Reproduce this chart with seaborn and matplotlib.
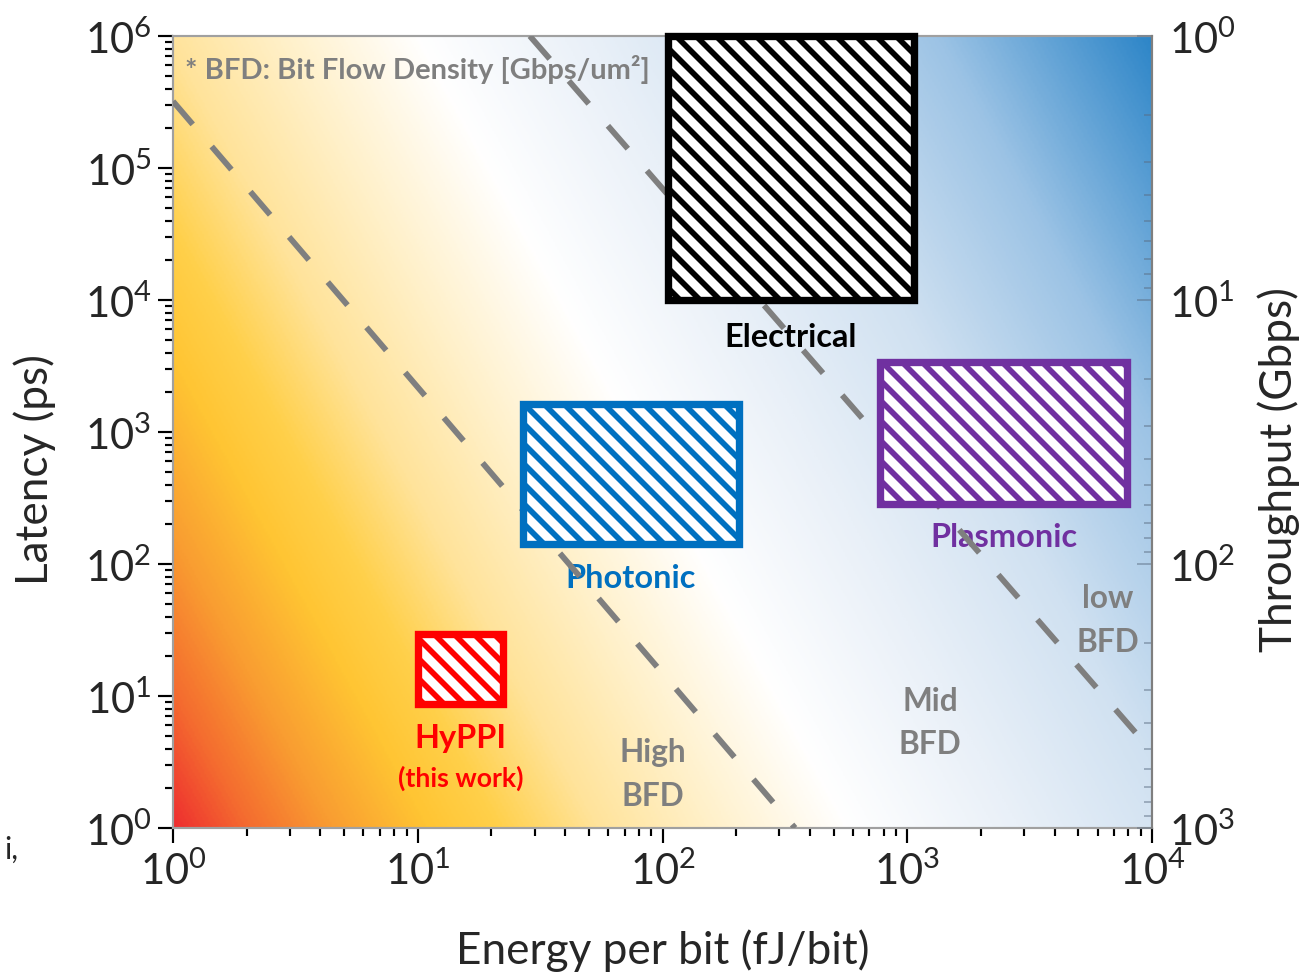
import numpy as np
import pandas as pd
import matplotlib
matplotlib.use("Agg")
import matplotlib.pyplot as plt
from matplotlib.patches import Rectangle
from matplotlib.colors import LinearSegmentedColormap
from matplotlib.ticker import LogLocator, NullFormatter
import seaborn as sns

# ---------------- data ----------------
technologies = ["HyPPI", "Photonic", "Plasmonic", "Electrical"]
energy_lo = [10.0, 26.9, 774.0, 105.0]        # fJ/bit
energy_hi = [22.3, 204.6, 7907.0, 1066.0]
latency_lo = [8.67, 141.0, 284.0, 1.0e4]      # ps
latency_hi = [29.6, 1638.0, 3390.0, 1.0e6]
tech_colors = ["#FF0000", "#0070C0", "#7030A0", "#000000"]

bfd_high_energy = [1.0, 348.0]
bfd_high_latency = [3.2e5, 1.0]
bfd_low_energy = [28.7, 1.0e4]
bfd_low_latency = [1.0e6, 3.8]

region_labels = ["High\nBFD", "Mid\nBFD", "low\nBFD"]
region_energy = [91.4, 1239.0, 6607.0]
region_latency = [2.57, 6.35, 37.7]

energy_ticks = [1, 10, 100, 1000, 10000]
latency_ticks = [1, 10, 100, 1e3, 1e4, 1e5, 1e6]
throughput_ticks = [1, 10, 100, 1000]

note_text = "* BFD: Bit Flow Density [Gbps/um\u00b2]"

# background gradient colour stops
grad_pos = [0.0, 0.05, 0.11, 0.18, 0.23, 0.30, 0.38, 0.48, 0.60, 0.72, 0.85, 1.0]
grad_colors = ["#EE2F2F", "#F46A2F", "#F99C31", "#FFC533", "#FFD04A", "#FFE39A",
               "#FFF0C8", "#FFFFFF", "#E9F0F8", "#D0E1F1", "#9CC3E5", "#2E86C8"]

# ---------------- style ----------------
sns.set_theme(style="ticks")
plt.rcParams["font.family"] = ["Lato", "DejaVu Sans"]
plt.rcParams["mathtext.fontset"] = "custom"
plt.rcParams["mathtext.rm"] = "Lato"
plt.rcParams["hatch.linewidth"] = 3.4

DPI = 120
fig = plt.figure(figsize=(1307 / DPI, 980 / DPI), dpi=DPI)
fig.patch.set_facecolor("white")
ax = fig.add_axes([173 / 1307, 1 - 829 / 980, (1152 - 173) / 1307, (829 - 37) / 980])

# gradient background (axes coordinates)
cmap = LinearSegmentedColormap.from_list("bfd", list(zip(grad_pos, grad_colors)))
n = 500
g = np.linspace(0, 1, n)
U, V = np.meshgrid(g, g)
T = (U + 0.44 * V) / 1.44
ax.imshow(T, cmap=cmap, vmin=0, vmax=1, extent=(0, 1, 0, 1), transform=ax.transAxes,
          origin="lower", aspect="auto", interpolation="bilinear", zorder=0)

ax.set_xscale("log")
ax.set_yscale("log")
ax.set_xlim(energy_ticks[0], energy_ticks[-1])
ax.set_ylim(latency_ticks[0], latency_ticks[-1])

# dashed BFD boundaries
df_lines = pd.DataFrame({
    "energy": bfd_high_energy + bfd_low_energy,
    "latency": bfd_high_latency + bfd_low_latency,
    "boundary": ["high"] * 2 + ["low"] * 2,
})
sns.lineplot(data=df_lines, x="energy", y="latency", units="boundary", estimator=None,
             sort=False, color="#7F7F7F", linewidth=3.5, ax=ax, zorder=3, legend=False)
for ln in ax.lines:
    ln.set_linestyle((0, (5.2, 5.0)))
    ln.set_dash_capstyle("butt")

# technology boxes
for name, x0, x1, y0, y1, c in zip(technologies, energy_lo, energy_hi, latency_lo, latency_hi, tech_colors):
    ax.add_patch(Rectangle((x0, y0), x1 - x0, y1 - y0, facecolor="white", edgecolor=c,
                           hatch="\\\\", linewidth=4.4, zorder=4, clip_on=False))
    xc = np.sqrt(x0 * x1)
    off = -13 if name == "Electrical" else -11
    ax.annotate(name, xy=(xc, y0), xytext=(0, off), textcoords="offset points",
                ha="center", va="top", fontsize=19.5, fontweight="bold", color=c, zorder=2)
    if name == "HyPPI":
        ax.annotate("(this work)", xy=(xc, y0), xytext=(0, -36), textcoords="offset points",
                    ha="center", va="top", fontsize=16, fontweight="bold", color=c, zorder=2)

for lab, xe, yl in zip(region_labels, region_energy, region_latency):
    ax.text(xe, yl, lab, ha="center", va="center", multialignment="center",
            fontsize=19, fontweight="bold", color="#7F7F7F", linespacing=1.62, zorder=2)

ax.text(0.012, 0.9595, note_text, transform=ax.transAxes, ha="left", va="center",
        fontsize=17.5, fontweight="bold", color="#7F7F7F", zorder=2)

# axes styling
for side in ["left", "bottom", "top"]:
    ax.spines[side].set_color("#A0A0A0")
    ax.spines[side].set_linewidth(1.3)
ax.spines["right"].set_visible(False)
ax.xaxis.set_major_locator(LogLocator(base=10, numticks=10))
ax.xaxis.set_minor_locator(LogLocator(base=10, subs=np.arange(2, 10), numticks=20))
ax.yaxis.set_major_locator(LogLocator(base=10, numticks=10))
ax.yaxis.set_minor_locator(LogLocator(base=10, subs=np.arange(2, 10), numticks=20))
ax.xaxis.set_minor_formatter(NullFormatter())
ax.yaxis.set_minor_formatter(NullFormatter())
ax.set_xlim(energy_ticks[0], energy_ticks[-1])
ax.set_ylim(latency_ticks[0], latency_ticks[-1])
ax.tick_params(which="major", direction="out", length=9, width=1.3, color="black",
               labelsize=25, pad=4, top=False, right=False)
ax.tick_params(which="minor", direction="out", length=5, width=1.3, color="black",
               top=False, right=False)

ax.set_xlabel("Energy per bit (fJ/bit)", fontsize=26.5)
ax.set_ylabel("Latency (ps)", fontsize=26.5)
ax.xaxis.set_label_coords(0.5, -0.127)
ax.yaxis.set_label_coords(-0.120, 0.454)

# right (throughput) axis
ax2 = ax.twinx()
ax2.set_yscale("log")
ax2.set_ylim(throughput_ticks[-1], throughput_ticks[0])
ax2.yaxis.set_major_locator(LogLocator(base=10, numticks=10))
ax2.yaxis.set_minor_locator(LogLocator(base=10, subs=np.arange(2, 10), numticks=20))
ax2.yaxis.set_minor_formatter(NullFormatter())
ax2.set_ylim(throughput_ticks[-1], throughput_ticks[0])
for side in ["left", "bottom", "top"]:
    ax2.spines[side].set_visible(False)
ax2.spines["right"].set_color("#7F7F7F")
ax2.spines["right"].set_linewidth(1.3)
ax2.tick_params(which="major", direction="in", length=9, width=1.2,
                color=(0.35, 0.42, 0.5, 0.45), labelsize=25, pad=10)
ax2.tick_params(which="minor", direction="in", length=5, width=1.2,
                color=(0.35, 0.42, 0.5, 0.45))
ax2.set_ylabel("Throughput (Gbps)", fontsize=26.5)
ax2.yaxis.set_label_coords(1.108, 0.454)

fig.text(0.003, 0.133, "i,", fontsize=18, ha="left", va="center")

fig.savefig("out.png", dpi=DPI)
